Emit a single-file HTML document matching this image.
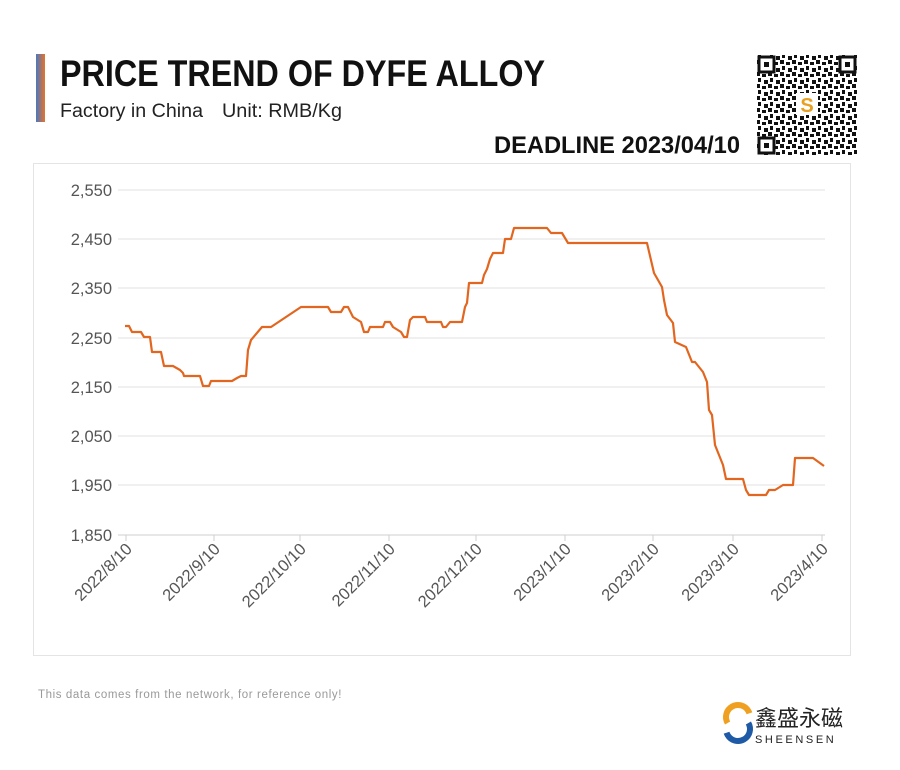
<!DOCTYPE html>
<html><head><meta charset="utf-8"><style>
body{margin:0;background:#fff}
svg{display:block}
.t{font-family:"Liberation Sans",sans-serif}
.a{font-family:"Liberation Sans",sans-serif;fill:#555;font-size:16.5px}
</style></head><body>
<svg width="900" height="770" viewBox="0 0 900 770" xmlns="http://www.w3.org/2000/svg">
<defs>
<linearGradient id="bar" x1="0" y1="0" x2="1" y2="0"><stop offset="0" stop-color="#4a78c0"/><stop offset="1" stop-color="#e8742a"/></linearGradient>
<pattern id="qr" width="12" height="12" patternUnits="userSpaceOnUse">
<rect width="12" height="12" fill="#fff"/>
<rect x="0" y="0" width="4" height="4" fill="#111"/><rect x="6" y="2" width="4" height="3" fill="#111"/>
<rect x="2" y="6" width="3" height="4" fill="#111"/><rect x="8" y="8" width="4" height="4" fill="#111"/>
</pattern>
</defs>
<rect x="36" y="54" width="9" height="68" fill="url(#bar)"/>
<text x="60" y="86" class="t" font-size="37" font-weight="bold" fill="#111" textLength="485" lengthAdjust="spacingAndGlyphs">PRICE TREND OF DYFE ALLOY</text>
<text x="60" y="117" class="t" font-size="19" fill="#222" textLength="143" lengthAdjust="spacingAndGlyphs">Factory in China</text>
<text x="222" y="117" class="t" font-size="19" fill="#222" textLength="120" lengthAdjust="spacingAndGlyphs">Unit: RMB/Kg</text>
<text x="494" y="153" class="t" font-size="24" font-weight="bold" fill="#111" textLength="246" lengthAdjust="spacingAndGlyphs">DEADLINE 2023/04/10</text>
<rect x="757" y="55" width="100" height="100" fill="url(#qr)"/>
<g fill="none" stroke="#111" stroke-width="3">
<rect x="759" y="57" width="15" height="15" fill="#fff"/><rect x="840" y="57" width="15" height="15" fill="#fff"/><rect x="759" y="138" width="15" height="15" fill="#fff"/></g>
<rect x="764" y="62" width="5" height="5" fill="#111"/><rect x="845" y="62" width="5" height="5" fill="#111"/><rect x="764" y="143" width="5" height="5" fill="#111"/>
<rect x="796" y="93" width="22" height="22" fill="#fff"/>
<text x="807" y="112" font-family="Liberation Sans,sans-serif" font-weight="bold" font-size="20" fill="#e8a020" text-anchor="middle">S</text>
<rect x="33.5" y="163.5" width="817" height="492" fill="#fff" stroke="#e4e4e4"/>
<g stroke="#e2e2e2" stroke-width="1">
<line x1="118" x2="825" y1="190" y2="190"/><line x1="118" x2="825" y1="239" y2="239"/><line x1="118" x2="825" y1="288" y2="288"/><line x1="118" x2="825" y1="338" y2="338"/><line x1="118" x2="825" y1="387" y2="387"/><line x1="118" x2="825" y1="436" y2="436"/><line x1="118" x2="825" y1="485" y2="485"/>
</g>
<line x1="118" x2="825" y1="535" y2="535" stroke="#cfcfcf"/>
<g stroke="#cfcfcf"><line x1="126" x2="126" y1="535" y2="541"/><line x1="214" x2="214" y1="535" y2="541"/><line x1="300" x2="300" y1="535" y2="541"/><line x1="389" x2="389" y1="535" y2="541"/><line x1="476" x2="476" y1="535" y2="541"/><line x1="565" x2="565" y1="535" y2="541"/><line x1="653" x2="653" y1="535" y2="541"/><line x1="733" x2="733" y1="535" y2="541"/><line x1="822" x2="822" y1="535" y2="541"/></g>
<g class="a" text-anchor="end">
<text x="112" y="196">2,550</text><text x="112" y="245">2,450</text><text x="112" y="294">2,350</text><text x="112" y="344">2,250</text><text x="112" y="393">2,150</text><text x="112" y="442">2,050</text><text x="112" y="491">1,950</text><text x="112" y="541">1,850</text>
</g>
<g class="a" text-anchor="end">
<text transform="translate(133,550) rotate(-45)">2022/8/10</text>
<text transform="translate(221,550) rotate(-45)">2022/9/10</text>
<text transform="translate(307,550) rotate(-45)">2022/10/10</text>
<text transform="translate(396,550) rotate(-45)">2022/11/10</text>
<text transform="translate(483,550) rotate(-45)">2022/12/10</text>
<text transform="translate(572,550) rotate(-45)">2023/1/10</text>
<text transform="translate(660,550) rotate(-45)">2023/2/10</text>
<text transform="translate(740,550) rotate(-45)">2023/3/10</text>
<text transform="translate(829,550) rotate(-45)">2023/4/10</text>
</g>
<polyline fill="none" stroke="#e2661f" stroke-width="2.2" stroke-linejoin="round" points="125,326 129,326 132,332 141,332 144,337 150,337 152,352 161,352 164,366 173,366 180,370 183,373 184,376 200,376 203,386 209,386 211,381 232,381 237,378 241,376 246,376 248,350 251,340 262,327 271,327 301,307 328,307 331,312 341,312 344,307 348,307 353,317 361,322 364,332 368,332 370,327 383,327 385,322 390,322 393,327 401,332 404,337 407,337 410,320 413,317 425,317 427,322 441,322 443,327 446,327 450,322 462,322 465,307 467,303 469,283 482,283 484,275 487,269 490,259 493,253 503,253 505,239 511,239 514,228 547,228 551,233 562,233 568,243 647,243 654,273 662,287 664,300 667,315 673,323 675,342 686,347 688,352 692,362 695,362 703,372 707,382 709,410 712,415 715,445 723,465 726,479 743,479 746,490 749,495 766,495 769,490 775,490 783,485 793,485 795,458 813,458 824,466"/>
<text x="38" y="698" font-family="Liberation Sans,sans-serif" font-size="11.5" fill="#999" letter-spacing="0.6">This data comes from the network, for reference only!</text>
<circle cx="738" cy="717" r="12" fill="none" stroke="#f0a020" stroke-width="6" stroke-dasharray="40 100" transform="rotate(150 738 717)"/>
<circle cx="738" cy="729" r="12" fill="none" stroke="#1f5aa6" stroke-width="6" stroke-dasharray="40 100" transform="rotate(-30 738 729)"/>
<text x="755" y="726" font-family="'Noto Sans CJK SC',sans-serif" font-size="22" fill="#222">鑫盛永磁</text>
<text x="755" y="743" font-family="Liberation Sans,sans-serif" font-size="11" fill="#222" letter-spacing="2.6">SHEENSEN</text>
</svg>
</body></html>
